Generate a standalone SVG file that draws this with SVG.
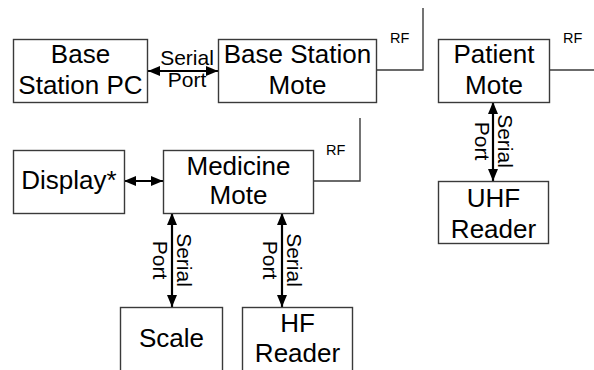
<svg xmlns="http://www.w3.org/2000/svg" width="594" height="370" viewBox="0 0 594 370">
<style>
.box{fill:#fff;stroke:#3a3a3a;stroke-width:1.4}
.t{font-family:"Liberation Sans",Arial,sans-serif;font-size:26px;fill:#000;text-anchor:middle}
.s{font-family:"Liberation Sans",Arial,sans-serif;font-size:21px;fill:#000;text-anchor:middle}
.rf{font-family:"Liberation Sans",Arial,sans-serif;font-size:14.5px;fill:#000}
.rfl{fill:none;stroke:#3a3a3a;stroke-width:1.4}
.arr{fill:none;stroke:#000;stroke-width:2.2;marker-start:url(#ah);marker-end:url(#ah)}
</style>
<defs>
<marker id="ah" markerUnits="userSpaceOnUse" markerWidth="12" markerHeight="10" refX="12" refY="5" orient="auto-start-reverse" viewBox="0 0 12 10">
<path d="M0,0 L12,5 L0,10 z" fill="#000"/>
</marker>
</defs>
<rect width="594" height="370" fill="#fff"/>
<g id="connectors">
<path class="arr" d="M148,71 H218"/>
<text class="s" x="187" y="65">Serial</text>
<text class="s" x="187" y="87">Port</text>
<path class="arr" d="M124,181 H163"/>
<path class="arr" d="M172,213 V307"/>
<text class="s" transform="translate(177,260) rotate(90)">Serial</text>
<text class="s" transform="translate(153,260) rotate(90)">Port</text>
<path class="arr" d="M282,213 V307"/>
<text class="s" transform="translate(287,260) rotate(90)">Serial</text>
<text class="s" transform="translate(263,260) rotate(90)">Port</text>
<path class="arr" d="M493,102 V181"/>
<text class="s" transform="translate(498,141) rotate(90)">Serial</text>
<text class="s" transform="translate(475,141) rotate(90)">Port</text>
<path class="rfl" d="M376,70 H423 V8"/>
<text class="rf" x="390" y="43">RF</text>
<path class="rfl" d="M549,70 H594"/>
<text class="rf" x="563" y="43">RF</text>
<path class="rfl" d="M313,181 H360 V118"/>
<text class="rf" x="326" y="155">RF</text>
</g>
<g id="base-station-pc">
<rect class="box" x="13.5" y="39.5" width="134" height="63"/>
<text class="t" x="80.5" y="63">Base</text>
<text class="t" x="80.5" y="94">Station PC</text>
</g>
<g id="base-station-mote">
<rect class="box" x="218.5" y="39.5" width="158" height="63"/>
<text class="t" x="297.5" y="63">Base Station</text>
<text class="t" x="297.5" y="94">Mote</text>
</g>
<g id="patient-mote">
<rect class="box" x="438.5" y="39.5" width="111" height="63"/>
<text class="t" x="494" y="63">Patient</text>
<text class="t" x="494" y="94">Mote</text>
</g>
<g id="display">
<rect class="box" x="13.5" y="150.5" width="111" height="63"/>
<text class="t" x="69" y="189">Display*</text>
</g>
<g id="medicine-mote">
<rect class="box" x="163.5" y="150.5" width="150" height="63"/>
<text class="t" x="238.5" y="175">Medicine</text>
<text class="t" x="238.5" y="204">Mote</text>
</g>
<g id="uhf-reader">
<rect class="box" x="438.5" y="181.5" width="110" height="62"/>
<text class="t" x="493.5" y="207">UHF</text>
<text class="t" x="493.5" y="238">Reader</text>
</g>
<g id="scale">
<rect class="box" x="120.5" y="307.5" width="102" height="70"/>
<text class="t" x="171.5" y="347">Scale</text>
</g>
<g id="hf-reader">
<rect class="box" x="242.5" y="307.5" width="110" height="70"/>
<text class="t" x="297.5" y="332">HF</text>
<text class="t" x="297.5" y="362">Reader</text>
</g>
</svg>
